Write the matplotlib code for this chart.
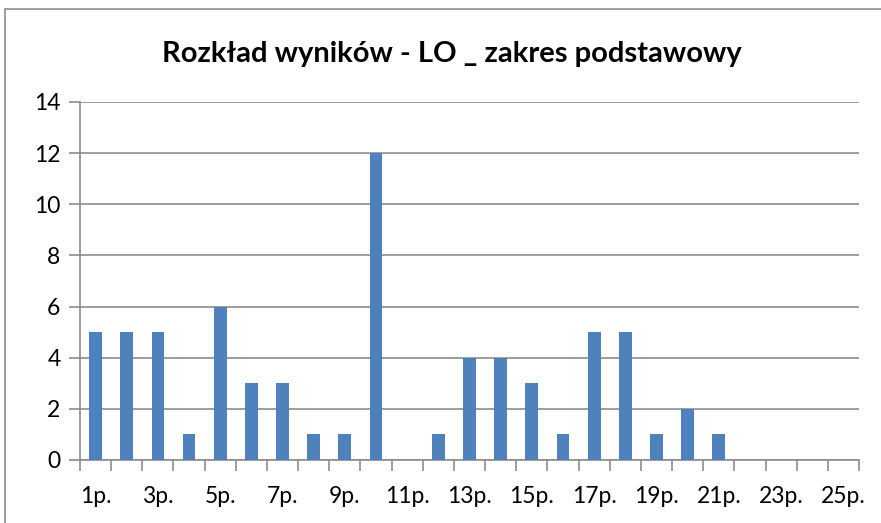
import numpy as np
import matplotlib.pyplot as plt
from matplotlib.patches import Rectangle

# data
categories = [f"{i}p." for i in range(1, 26)]
counts = [5, 5, 5, 1, 6, 3, 3, 1, 1, 12, 0, 1, 4, 4, 3, 1, 5, 5, 1, 2, 1, 0, 0, 0, 0]
y_ticks = [0, 2, 4, 6, 8, 10, 12, 14]
title = "Rozkład wyników - LO _ zakres podstawowy"

W, H = 881, 523
fig = plt.figure(figsize=(W / 100, H / 100), dpi=100)
plt.rcParams['font.family'] = ['Lato', 'DejaVu Sans']

# outer chart-area border (runs off the right and bottom edges)
fig.patches.append(Rectangle((5 / W, -0.02), 1.05, 1.02 - 9 / H,
                             transform=fig.transFigure, fill=False,
                             edgecolor='#8c8c8c', linewidth=1.2))

ax = fig.add_axes([80 / W, 1 - 460 / H, (859 - 80) / W, (460 - 102) / H])

x = np.arange(len(categories))
ax.bar(x, counts, width=0.41, color='#4F81BD', zorder=3)

ax.set_xlim(-0.5, len(categories) - 0.5)
ax.set_ylim(0, 14)
ax.set_yticks(y_ticks)
ax.set_yticklabels([str(v) for v in y_ticks], fontsize=16.5)
ax.yaxis.grid(True, color='#8c8c8c', linewidth=1.2, zorder=0)

# ticks between categories, labels on every second category
ax.set_xticks(np.arange(-0.5, len(categories), 1.0))
ax.set_xticklabels([])
ax.set_xticks(x[::2], minor=True)
ax.set_xticklabels(categories[::2], minor=True, fontsize=16.5)
ax.tick_params(axis='x', which='major', length=8, width=1.2, color='#8c8c8c')
ax.tick_params(axis='x', which='minor', length=0, pad=19)
ax.tick_params(axis='y', length=8, width=1.2, color='#8c8c8c', pad=6)

for side in ['top', 'right']:
    ax.spines[side].set_visible(False)
for side in ['left', 'bottom']:
    ax.spines[side].set_color('#8c8c8c')
    ax.spines[side].set_linewidth(1.2)

fig.text(452 / W, 1 - 54 / H, title, ha='center', va='center',
         fontsize=21, fontweight='bold')

fig.savefig("out.png", dpi=100)
